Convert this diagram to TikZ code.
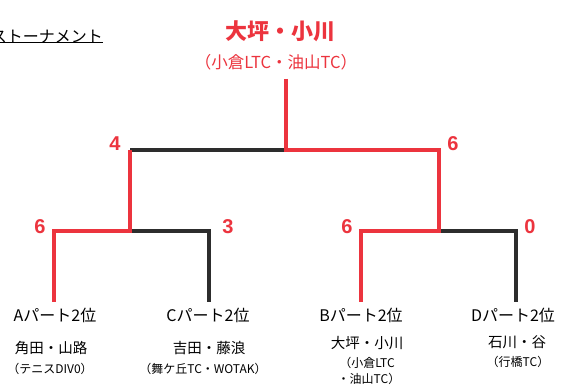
\documentclass[tikz,border=0pt]{standalone}
\usepackage{fontspec}
\setmainfont{Noto Sans CJK JP}
\newfontfamily\digitfont{Liberation Sans}
\definecolor{winred}{RGB}{236,52,62}
\definecolor{loseblk}{RGB}{45,45,45}
\begin{document}
\begin{tikzpicture}[x=1pt,y=-1pt,
  win/.style={draw=winred,line width=3.2pt},
  lose/.style={draw=loseblk,line width=3.2pt},
  score/.style={text=winred,font=\digitfont\fontsize{20}{20}\selectfont\bfseries,inner sep=0pt},
  part/.style={font=\fontsize{16}{16}\selectfont,inner sep=0pt},
  pname/.style={font=\fontsize{14.5}{14.5}\selectfont,inner sep=0pt},
  pclub/.style={font=\fontsize{12}{12}\selectfont,inner sep=0pt}]
\useasboundingbox (0,0) rectangle (562,387);
\fill[white] (0,0) rectangle (562,387);
% heading (cut off at the left edge, as in the reference)
\node[anchor=east,inner sep=0pt,font=\fontsize{16}{16}\selectfont] (head) at (103,37) {ストーナメント};
\draw[line width=1pt] (head.south west) ++(0,-1) coordinate (hl) -- (hl -| head.east);
% champion
\node[text=winred,inner sep=0pt,font=\fontsize{22}{22}\selectfont\bfseries] (champ) at (280,31) {大坪・小川};
\node[text=winred,inner sep=0pt,font=\fontsize{16.5}{16.5}\selectfont] (champclub) at (276,62) {（小倉LTC・油山TC）};
% junctions
\coordinate (top) at (286,79);
\coordinate (root) at (286,150);
\coordinate (l1) at (130,150);
\coordinate (r1) at (439,150);
\coordinate (lj) at (130,231);
\coordinate (rj) at (439,231);
\coordinate (at) at (54,231);
\coordinate (ct) at (209,231);
\coordinate (bt) at (361,231);
\coordinate (dt) at (516,231);
\coordinate (ab) at (54,302);
\coordinate (cb) at (209,302);
\coordinate (bb) at (361,302);
\coordinate (db) at (516,302);
% lines
\draw[lose] (root) -- (l1);
\draw[lose] (lj) -- (ct) -- (cb);
\draw[lose] (rj) -- (dt) -- (db);
\draw[win,line join=miter] (top) -- (root) -- (r1) -- (rj) -- (bt) -- (bb);
\draw[win,line join=miter] (l1) -- (lj) -- (at) -- (ab);
% scores
\node[score] (s4) at (115,144) {4};
\node[score] (s6r) at (453,144) {6};
\node[score] (s6a) at (40,227) {6};
\node[score] (s3) at (228,227) {3};
\node[score] (s6b) at (347,227) {6};
\node[score] (s0) at (530,227) {0};
% A
\node[part] (pa) at (55,315) {Aパート2位};
\node[pname] (na) at (51,348) {角田・山路};
\node[pclub] (ca) at (50,369) {（テニスDIV0）};
% C
\node[part] (pc) at (208,315) {Cパート2位};
\node[pname] (nc) at (209,348) {吉田・藤浪};
\node[pclub] (cc) at (203,369) {（舞ケ丘TC・WOTAK）};
% B
\node[part] (pb) at (361,315) {Bパート2位};
\node[pname] (nb) at (367,343) {大坪・小川};
\node[pclub] (cb1) at (367,363) {（小倉LTC};
\node[pclub] (cb2) at (369,379) {・油山TC）};
% D
\node[part] (pd) at (513,315) {Dパート2位};
\node[pname] (nd) at (517,342) {石川・谷};
\node[pclub] (cd) at (518,362) {（行橋TC）};
\end{tikzpicture}
\end{document}
